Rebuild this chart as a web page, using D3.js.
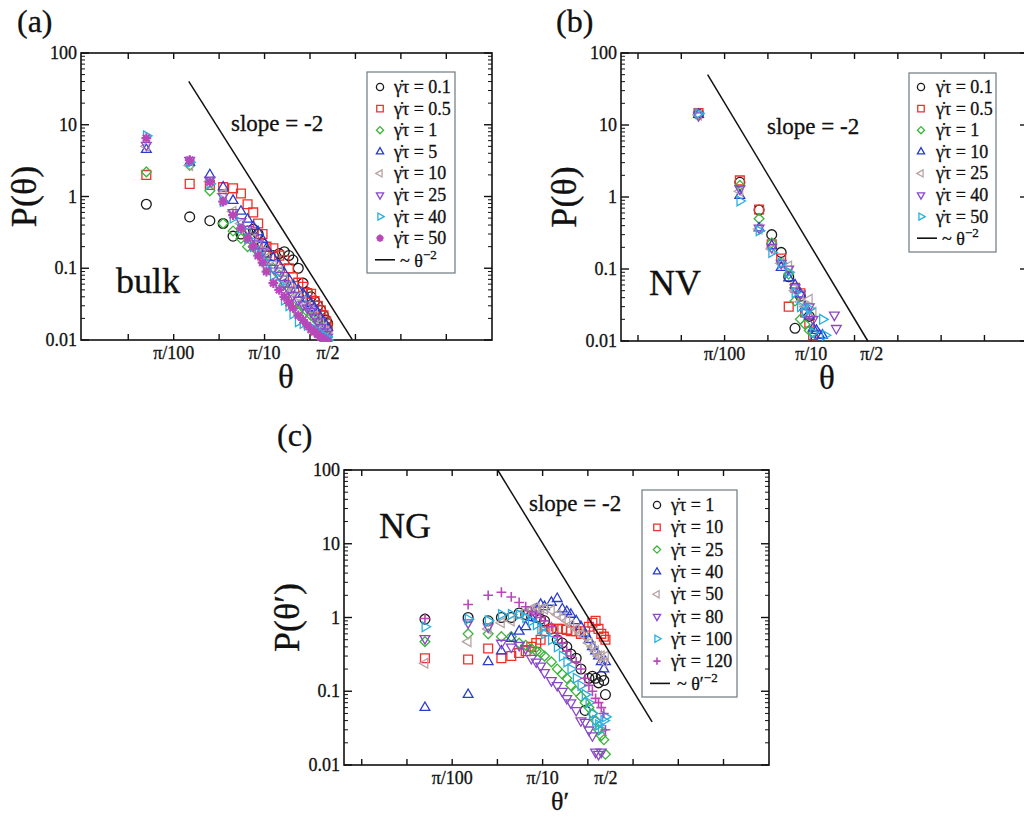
<!DOCTYPE html>
<html>
<head>
<meta charset="utf-8">
<script src="https://cdn.jsdelivr.net/npm/d3@7"></script>
<style>
  body { margin: 0; background: #fff; }
  svg { font-family: "Liberation Serif", "Times New Roman", serif; }
  svg text { fill: #111; stroke: #111; stroke-width: 0.3; }
</style>
</head>
<body>
<div id="fig"></div>
<script>
// bin centres, in units of pi/100
var binsBulk = [0.5, 1.5, 2.5, 3.5, 4.5, 5.5, 6.5, 7.5, 8.5, 9.5, 10.5, 12.5, 14.5, 16.5, 18.5, 20.5, 23.5, 26.5, 29.5, 32.5, 35.5, 38.5, 41.5, 44.5, 47.5, 49.5];
var binsNV = [0.5, 1.5, 2.5, 3.5, 4.5, 5.5, 6.5, 7.5, 8.5, 9.5, 10.5, 11.5, 12.5, 13.5, 14.5, 15.5, 16.5, 17.5, 18.5, 19.5];
var binsNG = binsBulk;

// (a) bulk
var bulkRates = ["0.1", "0.5", "1", "5", "10", "25", "40", "50"];
var bulkP = [
  [0.78, 0.52, 0.46, 0.42, 0.28, 0.30, 0.33, 0.35, 0.30, 0.22, 0.17, 0.15, 0.16, 0.17, 0.15, 0.13, 0.10, 0.062, 0.046, 0.04, 0.035, 0.03, 0.026, 0.022, 0.019, 0.017],
  [2.0, 1.5, 1.45, 1.35, 1.3, 1.1, 0.78, 0.6, 0.42, 0.3, 0.2, 0.19, 0.15, 0.13, 0.1, 0.075, 0.063, 0.055, 0.045, 0.044, 0.035, 0.03, 0.026, 0.022, 0.018, 0.015],
  [2.2, 2.7, 1.2, 0.42, 0.33, 0.26, 0.2, 0.2, 0.17, 0.14, 0.11, 0.1, 0.08, 0.06, 0.045, 0.03, 0.024, 0.03, 0.025, 0.022, 0.02, 0.018, 0.016, 0.014, 0.012, 0.011],
  [4.5, 3.0, 2.0, 1.35, 0.88, 0.62, 0.48, 0.38, 0.32, 0.25, 0.19, 0.14, 0.11, 0.085, 0.07, 0.058, 0.05, 0.044, 0.038, 0.032, 0.028, 0.024, 0.02, 0.018, 0.016, 0.015],
  [5.0, 2.7, 1.6, 1.1, 0.62, 0.42, 0.32, 0.26, 0.21, 0.17, 0.14, 0.11, 0.09, 0.07, 0.058, 0.048, 0.04, 0.035, 0.03, 0.026, 0.022, 0.019, 0.017, 0.015, 0.013, 0.012],
  [5.2, 3.2, 1.7, 1.0, 0.6, 0.45, 0.35, 0.28, 0.22, 0.17, 0.13, 0.1, 0.08, 0.062, 0.05, 0.042, 0.036, 0.031, 0.028, 0.025, 0.021, 0.018, 0.015, 0.013, 0.012, 0.011],
  [7.0, 3.0, 1.5, 0.85, 0.5, 0.36, 0.26, 0.2, 0.16, 0.13, 0.1, 0.08, 0.06, 0.036, 0.03, 0.023, 0.018, 0.017, 0.016, 0.015, 0.014, 0.013, 0.012, 0.011, 0.011, 0.010],
  [6.5, 3.2, 1.6, 0.85, 0.55, 0.36, 0.26, 0.2, 0.15, 0.12, 0.09, 0.062, 0.05, 0.04, 0.033, 0.028, 0.022, 0.019, 0.016, 0.014, 0.013, 0.012, 0.011, 0.0105, 0.0098, 0.0095]
];

// (b) NV
var nvRates = ["0.1", "0.5", "1", "10", "25", "40", "50"];
var nvP = [
  [14.2, 1.6, 0.66, 0.3, 0.17, 0.078, 0.015, 0.042, null, 0.022, null, null, null, null, null, null, null, null, null, null],
  [14.6, 1.7, 0.67, 0.22, 0.14, 0.03, 0.055, 0.046, 0.025, 0.018, 0.012, null, null, null, null, null, null, null, null, null],
  [14.0, 1.45, 0.5, 0.23, 0.12, 0.085, 0.036, 0.02, 0.017, 0.014, 0.013, null, null, null, null, null, null, null, null, null],
  [14.0, 1.05, 0.37, 0.21, 0.105, 0.075, 0.06, 0.045, 0.03, 0.022, 0.015, 0.014, 0.012, 0.012, null, null, null, null, null, null],
  [13.8, 1.2, 0.36, 0.19, 0.12, 0.11, 0.05, 0.035, 0.03, 0.038, 0.025, null, null, null, null, null, null, null, null, null],
  [13.5, 1.3, 0.37, 0.2, 0.12, 0.1, 0.055, 0.045, 0.025, 0.03, 0.02, null, null, null, null, null, null, null, 0.023, 0.015],
  [14.4, 0.88, 0.34, 0.17, 0.12, 0.09, 0.047, 0.03, 0.025, 0.028, 0.013, null, null, 0.02, 0.012, null, null, null, null, null]
];

// (c) NG
var ngRates = ["1", "10", "25", "40", "50", "80", "100", "120"];
var ngP = [
  [0.95, 1.0, 0.9, 1.0, 1.0, 1.15, 1.1, 1.05, 1.0, 0.95, 0.9, 0.7, 0.5, 0.45, 0.4, 0.32, 0.28, 0.2, 0.055, 0.15, 0.16, 0.15, 0.13, 0.16, 0.14, 0.09],
  [0.28, 0.27, 0.38, 0.28, 0.3, 0.33, 0.35, 0.4, 0.45, 0.5, 0.65, 0.7, 0.7, 0.7, 0.68, 0.65, 0.65, 0.6, 0.65, 0.75, 0.85, 0.9, 0.7, 0.6, 0.55, 0.5],
  [0.47, 0.6, 0.6, 0.55, 0.55, 0.45, 0.42, 0.38, 0.35, 0.33, 0.3, 0.25, 0.2, 0.17, 0.15, 0.12, 0.1, 0.085, 0.07, 0.06, 0.05, 0.04, 0.03, 0.025, 0.022, 0.014],
  [0.06, 0.09, 0.25, 0.35, 0.52, 0.65, 0.75, 1.0, 1.3, 1.5, 1.4, 1.6, 1.8, 1.3, 1.2, 1.1, 0.9, 0.75, 0.6, 0.5, 0.4, 0.35, 0.3, 0.25, 0.2, 0.25],
  [0.24, 0.47, 0.7, 0.85, 0.9, 1.1, 1.2, 1.3, 1.35, 1.3, 1.3, 1.25, 1.1, 1.0, 0.9, 0.8, 0.7, 0.6, 0.55, 0.45, 0.4, 0.35, 0.3, 0.3, 0.25, 0.3],
  [0.52, 0.85, 0.75, 0.45, 0.4, 0.42, 0.38, 0.28, 0.25, 0.22, 0.18, 0.14, 0.12, 0.1, 0.08, 0.07, 0.055, 0.04, 0.038, 0.03, 0.025, 0.015, 0.014, 0.015, null, null],
  [0.75, 0.95, 0.9, 1.1, 1.1, 1.1, 1.0, 0.9, 0.8, 0.7, 0.6, 0.5, 0.4, 0.3, 0.25, 0.2, 0.15, 0.12, 0.09, 0.07, 0.05, 0.04, 0.035, 0.03, 0.04, 0.045],
  [0.97, 1.5, 2.0, 2.2, 1.9, 1.6, 1.4, 1.2, 1.1, 1.0, 0.9, 0.75, 0.55, 0.45, 0.35, 0.3, 0.25, 0.2, 0.15, 0.12, 0.1, 0.08, 0.07, 0.06, 0.05, 0.03]
];

// theta^-2 guide lines: prefactor and theta range
var slopeBulk = [0.085, 0.046, 2.9];
var slopeNV = [0.02, 0.02, 1.42];
var slopeNG = [1.0, 0.1, 5.1];

var xTickLabels = ["π/100", "π/10", "π/2"];
var xTickValues = [Math.PI / 100, Math.PI / 10, Math.PI / 2];
var yTickValues = [0.01, 0.1, 1, 10, 100];

var colors = ["#1a1a1a", "#f0302a", "#3cb43c", "#2a3ccc", "#b8a4a4", "#8a48c8", "#28b0e0", "#b848b8"];
var shapes = ["circle", "square", "diamond", "up", "left", "down", "right", "plus"];

var svg = d3.select('#fig').append('svg').attr('width', 1024).attr('height', 817);

function marker(g, type, x, y, s, color, thick) {
  var p;
  function tri(rot) {
    var pts = [0, 120, 240].map(function (a) {
      var r = (a + rot) * Math.PI / 180;
      return [x + s * 1.15 * Math.cos(r), y + s * 1.15 * Math.sin(r)];
    });
    return 'M' + pts.join('L') + 'Z';
  }
  if (type === 'circle') {
    g.append('circle').attr('cx', x).attr('cy', y).attr('r', s)
      .attr('fill', 'none').attr('stroke', color).attr('stroke-width', 1.3);
    return;
  }
  if (type === 'square') p = 'M' + (x - s * 0.9) + ',' + (y - s * 0.9) + 'h' + 1.8 * s + 'v' + 1.8 * s + 'h' + (-1.8 * s) + 'Z';
  if (type === 'diamond') p = 'M' + x + ',' + (y - s) + 'L' + (x + s) + ',' + y + 'L' + x + ',' + (y + s) + 'L' + (x - s) + ',' + y + 'Z';
  if (type === 'up') p = tri(-90);
  if (type === 'down') p = tri(90);
  if (type === 'left') p = tri(180);
  if (type === 'right') p = tri(0);
  if (type === 'plus') {
    p = 'M' + (x - s) + ',' + y + 'H' + (x + s) + 'M' + x + ',' + (y - s) + 'V' + (y + s);
    if (thick) p += 'M' + (x - s * 0.7) + ',' + (y - s * 0.7) + 'L' + (x + s * 0.7) + ',' + (y + s * 0.7) +
      'M' + (x - s * 0.7) + ',' + (y + s * 0.7) + 'L' + (x + s * 0.7) + ',' + (y - s * 0.7);
  }
  g.append('path').attr('d', p).attr('fill', 'none').attr('stroke', color)
    .attr('stroke-width', type === 'plus' ? (thick ? 2.2 : 1.6) : 1.3);
}

function panel(o) {
  var x = d3.scaleLog().domain(o.xdom).range([o.x0, o.x1]);
  var y = d3.scaleLog().domain([0.01, 100]).range([o.y1, o.y0]);
  var g = svg.append('g');

  // frame
  g.append('rect').attr('x', o.x0).attr('y', o.y0).attr('width', o.x1 - o.x0).attr('height', o.y1 - o.y0)
    .attr('fill', 'none').attr('stroke', '#111').attr('stroke-width', 1.6);

  // y ticks, mirrored
  var yMinor = [];
  [0.01, 0.1, 1, 10].forEach(function (d) {
    for (var k = 2; k <= 9; k++) yMinor.push(d * k);
  });
  yMinor.forEach(function (v) {
    g.append('line').attr('x1', o.x0).attr('x2', o.x0 + 4).attr('y1', y(v)).attr('y2', y(v)).attr('stroke', '#111');
    g.append('line').attr('x1', o.x1).attr('x2', o.x1 - 4).attr('y1', y(v)).attr('y2', y(v)).attr('stroke', '#111');
  });
  yTickValues.forEach(function (v) {
    g.append('line').attr('x1', o.x0).attr('x2', o.x0 + 8).attr('y1', y(v)).attr('y2', y(v)).attr('stroke', '#111').attr('stroke-width', 1.4);
    g.append('line').attr('x1', o.x1).attr('x2', o.x1 - 8).attr('y1', y(v)).attr('y2', y(v)).attr('stroke', '#111').attr('stroke-width', 1.4);
    g.append('text').attr('x', o.x0 - 4).attr('y', y(v) + 6).attr('text-anchor', 'end')
      .attr('font-size', 18).text(v);
  });

  // x ticks every half decade (pi/100 based)
  for (var n = -6; n <= 6; n++) {
    var v = Math.PI / 100 * Math.pow(10, n / 2);
    if (v <= o.xdom[0] * 1.05 || v >= o.xdom[1] * 0.97) continue;
    g.append('line').attr('x1', x(v)).attr('x2', x(v)).attr('y1', o.y1).attr('y2', o.y1 - 6).attr('stroke', '#111').attr('stroke-width', 1.4);
    g.append('line').attr('x1', x(v)).attr('x2', x(v)).attr('y1', o.y0).attr('y2', o.y0 + 6).attr('stroke', '#111').attr('stroke-width', 1.4);
  }
  xTickValues.forEach(function (v, i) {
    g.append('text').attr('x', x(v)).attr('y', o.y1 + 19).attr('text-anchor', 'middle')
      .attr('font-size', 18).text(xTickLabels[i]);
  });

  // data
  var clipId = 'clip' + o.id;
  svg.append('clipPath').attr('id', clipId).append('rect')
    .attr('x', o.x0).attr('y', o.y0 - 2).attr('width', o.x1 - o.x0).attr('height', o.y1 - o.y0 + 4);
  var data = g.append('g').attr('clip-path', 'url(#' + clipId + ')');
  o.values.forEach(function (vals, si) {
    var sh = o.shapes[si];
    vals.forEach(function (p, i) {
      if (p === null) return;
      marker(data, sh, x(o.bins[i] * Math.PI / 100), y(p), 4.9, o.colors[si], o.id === 'a');
    });
  });

  // guide line ~ theta^-2
  var c = o.slope[0];
  g.append('line')
    .attr('x1', x(o.slope[1])).attr('y1', y(Math.min(100, c / (o.slope[1] * o.slope[1]))))
    .attr('x2', x(o.slope[2])).attr('y2', y(c / (o.slope[2] * o.slope[2])))
    .attr('stroke', '#111').attr('stroke-width', 1.5);

  g.append('text').attr('x', o.slopeText[0]).attr('y', o.slopeText[1]).attr('font-size', 23).text('slope = -2');
  g.append('text').attr('x', o.name[0]).attr('y', o.name[1]).attr('font-size', 36).text(o.name[2]);
  g.append('text').attr('x', o.tag[0]).attr('y', o.tag[1]).attr('font-size', 32).text(o.tag[2]);

  // axis titles
  g.append('text').attr('transform', 'translate(' + (o.x0 - 45) + ',' + ((o.y0 + o.y1) / 2) + ') rotate(-90)')
    .attr('text-anchor', 'middle').attr('font-size', 36)
    .text(o.prime ? 'P(θ′)' : 'P(θ)');
  g.append('text').attr('x', o.xlab[0]).attr('y', o.xlab[1]).attr('text-anchor', 'middle').attr('font-size', o.xlab[2])
    .text(o.prime ? 'θ′' : 'θ');

  // legend
  var L = o.legend;
  var nRows = o.rates.length + 1;
  var lg = g.append('g');
  lg.append('rect').attr('x', L.x).attr('y', L.y).attr('width', L.w).attr('height', L.h)
    .attr('fill', '#fff').attr('stroke', '#6f7a80').attr('stroke-width', 1.2);
  o.rates.forEach(function (r, i) {
    var ry = L.y + L.top + i * L.dy;
    marker(lg, o.shapes[i], L.x + L.sx, ry, 3.6, o.colors[i], o.id === 'a');
    lg.append('text').attr('x', L.x + L.tx).attr('y', ry + 6).attr('font-size', 18)
      .text('γ\u0307τ = ' + r);
  });
  var ly = L.y + L.top + (nRows - 1) * L.dy;
  lg.append('line').attr('x1', L.x + 8).attr('x2', L.x + 28).attr('y1', ly).attr('y2', ly)
    .attr('stroke', '#111').attr('stroke-width', 1.6);
  var lt = lg.append('text').attr('x', L.x + L.tx + 6).attr('y', ly + 7).attr('font-size', 18);
  lt.append('tspan').text('~ ' + (o.prime ? 'θ′' : 'θ'));
  lt.append('tspan').attr('dy', -8).attr('font-size', 13).text('−2');
}

panel({
  id: 'a', x0: 81, x1: 492, y0: 53, y1: 340, xdom: [0.003, 100],
  bins: binsBulk, values: bulkP, rates: bulkRates, colors: colors, shapes: shapes,
  slope: slopeBulk, slopeText: [231, 131], name: [116, 293, 'bulk'], tag: [17, 32, '(a)'],
  xlab: [286, 388, 33],
  legend: { x: 367, y: 72, w: 88, h: 201, top: 15, dy: 21.6, sx: 13, tx: 27 }
});

panel({
  id: 'b', x0: 621, x1: 1028, y0: 53, y1: 341, xdom: [0.002, 100],
  bins: binsNV, values: nvP, rates: nvRates, colors: colors, shapes: shapes,
  slope: slopeNV, slopeText: [767, 134], name: [649, 295, 'NV'], tag: [556, 32, '(b)'],
  xlab: [827, 389, 33],
  legend: { x: 909, y: 73, w: 87, h: 179, top: 14, dy: 21.6, sx: 12, tx: 27 }
});

panel({
  id: 'c', x0: 344, x1: 769, y0: 470, y1: 765, xdom: [0.002, 100], prime: true,
  bins: binsNG, values: ngP, rates: ngRates, colors: colors, shapes: shapes,
  slope: slopeNG, slopeText: [529, 511], name: [379, 538, 'NG'], tag: [277, 446, '(c)'],
  xlab: [560, 810, 26],
  legend: { x: 642, y: 490, w: 95, h: 207, top: 15, dy: 22.3, sx: 15, tx: 29 }
});
</script>
</body>
</html>
